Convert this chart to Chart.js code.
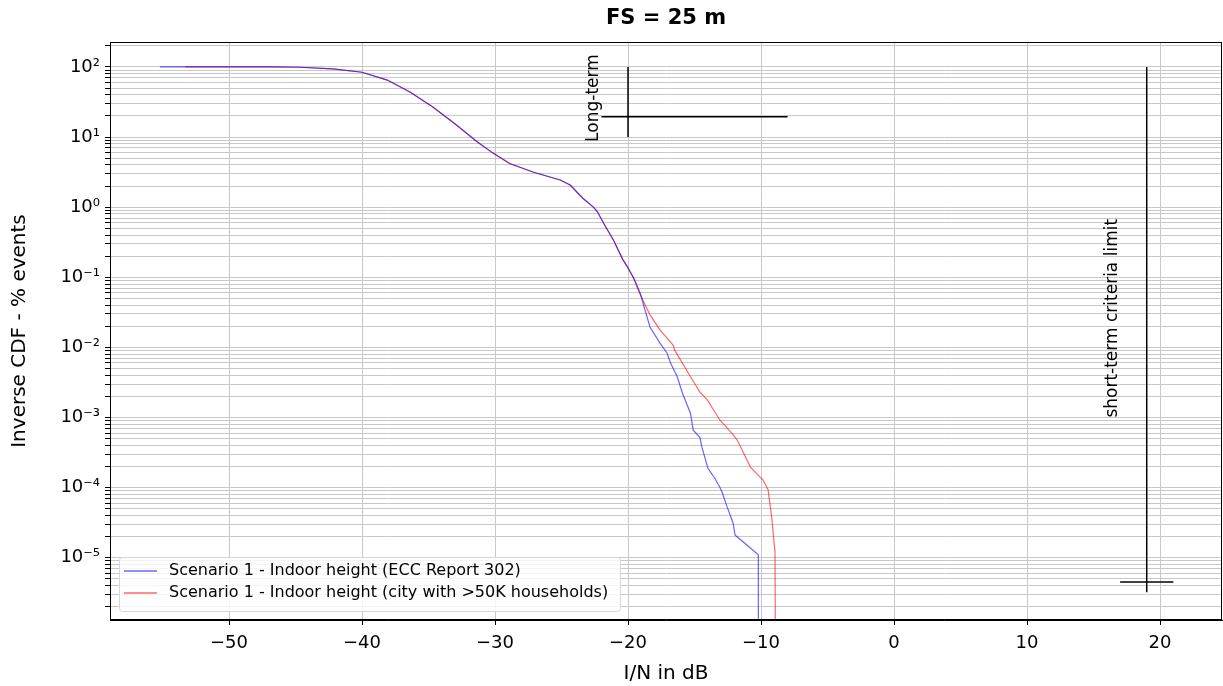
<!DOCTYPE html>
<html>
<head>
<meta charset="utf-8">
<script src="https://cdn.jsdelivr.net/npm/chart.js@4.4.1/dist/chart.umd.min.js"></script>
<style>
  body { margin: 0; background: #fff; }
  canvas { display: block; }
</style>
</head>
<body>
<canvas id="grafico" width="1223" height="686"></canvas>
<script>
// datos
const titulo = "FS = 25 m";
const xTicks = [-50, -40, -30, -20, -10, 0, 10, 20];
const yTickLabels = ["10\u207B\u2075", "10\u207B\u2074", "10\u207B\u00B3", "10\u207B\u00B2", "10\u207B\u00B9", "10\u2070", "10\u00B9", "10\u00B2"];
const yExponentes = [-5, -4, -3, -2, -1, 0, 1, 2];

const etiquetas = [
  "Scenario 1 - Indoor height (ECC Report 302)",
  "Scenario 1 - Indoor height (city with >50K households)"
];

// escenario 1 - ECC Report 302 (azul)
const xAzul = [-55.2, -53.3, -47, -44.7, -42.2, -40, -38.1, -36.4, -34.7, -32.9, -31.35, -30.15, -28.9, -27.1, -25.1, -24.35, -23.4, -22.6, -22.3, -21.9, -21.1, -20.4, -20, -19.85, -19.5, -19.1, -18.35, -17.6, -17.07, -16.8, -16.3, -15.9, -15.3, -15.1, -14.6, -14.45, -14.0, -13.8, -13.5, -13.1, -12.9, -12.55, -12.2, -12.1, -11.95, -10.2, -10.2];
const yAzul = [100, 100, 100, 99, 93.6, 84, 65, 44, 27, 14.9, 8.6, 5.9, 4.2, 3.15, 2.44, 2.07, 1.34, 1.0, 0.86, 0.62, 0.34, 0.18, 0.136, 0.12, 0.091, 0.06, 0.0195, 0.0115, 0.0083, 0.006, 0.0038, 0.0022, 0.00114, 0.00066, 0.00052, 0.00038, 0.00019, 0.000166, 0.000138, 0.000102, 0.000083, 0.000053, 0.000035, 0.000031, 0.000021, 0.000011, 1e-7];

// escenario 1 - ciudad >50K hogares (rojo)
const xRojo = [-53.3, -47, -44.7, -42.2, -40, -38.1, -36.4, -34.7, -32.9, -31.35, -30.15, -28.9, -27.1, -25.1, -24.35, -23.4, -22.6, -22.3, -21.9, -21.1, -20.4, -20, -19.6, -19.3, -18.9, -18.35, -17.6, -16.6, -16.5, -15.3, -14.6, -14.05, -13.1, -12.3, -11.8, -10.8, -9.85, -9.47, -9.2, -8.95, -8.9];
const yRojo = [100, 100, 99, 93.6, 84, 65, 44, 27, 14.9, 8.6, 5.9, 4.2, 3.15, 2.44, 2.07, 1.34, 1.0, 0.86, 0.62, 0.34, 0.18, 0.136, 0.1, 0.07, 0.048, 0.029, 0.0178, 0.0107, 0.0092, 0.0038, 0.0023, 0.0018, 0.00092, 0.00063, 0.00048, 0.000196, 0.000128, 0.000093, 0.000038, 0.000012, 1e-7];

// lineas de criterio
const largoPlazoV = { x: [-20, -20], y: [100, 10] };
const largoPlazoH = { x: [-22, -8], y: [19.5, 19.5] };
const cortoPlazoV = { x: [19, 19], y: [100, 3.2e-6] };
const cortoPlazoH = { x: [17, 21], y: [4.5e-6, 4.5e-6] };
const textosCriterio = [
  { texto: "Long-term", x: -22.6, y: 36 },
  { texto: "short-term criteria limit", x: 16.4, y: 0.026 }
];

const fuente = "'DejaVu Sans', sans-serif";

function puntos(xs, ys) {
  return xs.map((x, i) => ({ x, y: ys[i] }));
}

function lineaNegra(obj) {
  return {
    data: puntos(obj.x, obj.y),
    borderColor: "#000",
    borderWidth: 1.5,
    pointRadius: 0,
    enLeyenda: false
  };
}

const pluginExtras = {
  id: "extras",
  afterDatasetsDraw(chart) {
    const { ctx, chartArea: a, scales } = chart;
    ctx.save();

    // marco completo
    ctx.strokeStyle = "#000";
    ctx.lineWidth = 1;
    ctx.strokeRect(a.left + 0.5, a.top + 0.5, a.right - a.left - 1, a.bottom - a.top - 1);

    // titulo centrado sobre el area de datos
    ctx.fillStyle = "#000";
    ctx.font = "bold 21px " + fuente;
    ctx.textAlign = "center";
    ctx.textBaseline = "middle";
    ctx.fillText(titulo, (a.left + a.right) / 2, 19);

    // textos verticales
    ctx.font = "17px " + fuente;
    textosCriterio.forEach(t => {
      const px = scales.x.getPixelForValue(t.x);
      const py = scales.y.getPixelForValue(t.y);
      ctx.save();
      ctx.translate(px, py);
      ctx.rotate(-Math.PI / 2);
      ctx.fillText(t.texto, 0, 0);
      ctx.restore();
    });

    // leyenda dentro del area
    const series = chart.data.datasets.filter(d => d.enLeyenda !== false);
    const bx = a.left + 9, by = a.bottom - 63, bw = 501, bh = 54;
    ctx.fillStyle = "rgba(255,255,255,0.8)";
    ctx.strokeStyle = "#d6d6d6";
    ctx.lineWidth = 1;
    ctx.beginPath();
    ctx.roundRect(bx + 0.5, by + 0.5, bw, bh, 3);
    ctx.fill();
    ctx.stroke();

    ctx.font = "16px " + fuente;
    ctx.textAlign = "left";
    series.forEach((d, i) => {
      const y = by + 14 + i * 22;
      ctx.strokeStyle = d.borderColor;
      ctx.lineWidth = 1.5;
      ctx.beginPath();
      ctx.moveTo(bx + 5, y);
      ctx.lineTo(bx + 38, y);
      ctx.stroke();
      ctx.fillStyle = "#000";
      ctx.fillText(d.label, bx + 50, y);
    });

    ctx.restore();
  }
};

new Chart(document.getElementById("grafico"), {
  type: "line",
  data: {
    datasets: [
      {
        label: etiquetas[0],
        data: puntos(xAzul, yAzul),
        borderColor: "rgba(0,0,255,0.6)",
        borderWidth: 1.2,
        pointRadius: 0
      },
      {
        label: etiquetas[1],
        data: puntos(xRojo, yRojo),
        borderColor: "rgba(255,0,0,0.6)",
        borderWidth: 1.2,
        pointRadius: 0
      },
      lineaNegra(largoPlazoV),
      lineaNegra(largoPlazoH),
      lineaNegra(cortoPlazoV),
      lineaNegra(cortoPlazoH)
    ]
  },
  options: {
    responsive: false,
    animation: false,
    parsing: false,
    layout: { padding: { top: 42, right: 1 } },
    plugins: {
      legend: { display: false },
      tooltip: { enabled: false },
      title: { display: false }
    },
    scales: {
      x: {
        type: "linear",
        min: -58.95,
        max: 24.66,
        afterBuildTicks: s => { s.ticks = xTicks.map(v => ({ value: v })); },
        afterFit: s => { s.height = 66; },
        ticks: {
          autoSkip: false,
          maxRotation: 0,
          color: "#000",
          padding: 8,
          font: { family: fuente, size: 18 },
          callback: v => String(v).replace("-", "\u2212")
        },
        grid: { color: "#c8c8c8", tickColor: "#000", tickLength: 5 },
        border: { color: "#000" },
        title: {
          display: true,
          text: "I/N in dB",
          color: "#000",
          font: { family: fuente, size: 20 },
          padding: { top: 0, bottom: 0 }
        }
      },
      y: {
        type: "logarithmic",
        min: 1.29e-6,
        max: 227,
        afterBuildTicks: s => {
          const ticks = [];
          for (let e = -6; e <= 2; e++) {
            for (let k = 1; k <= 9; k++) {
              const v = k * Math.pow(10, e);
              if (v >= s.min && v <= s.max) ticks.push({ value: v, major: k === 1 });
            }
          }
          s.ticks = ticks;
        },
        afterFit: s => { s.width = 110; },
        ticks: {
          autoSkip: false,
          color: "#000",
          padding: 5,
          font: { family: fuente, size: 18 },
          callback: v => {
            const e = Math.round(Math.log10(v));
            if (Math.abs(v / Math.pow(10, e) - 1) > 1e-6) return "";
            const i = yExponentes.indexOf(e);
            return i >= 0 ? yTickLabels[i] : "";
          }
        },
        grid: { color: "#c8c8c8", tickColor: "#000", tickLength: 5 },
        border: { color: "#000" },
        title: {
          display: true,
          text: "Inverse CDF - % events",
          color: "#000",
          font: { family: fuente, size: 20 },
          padding: { top: 8, bottom: 0 }
        }
      }
    }
  },
  plugins: [pluginExtras]
});
</script>
</body>
</html>
